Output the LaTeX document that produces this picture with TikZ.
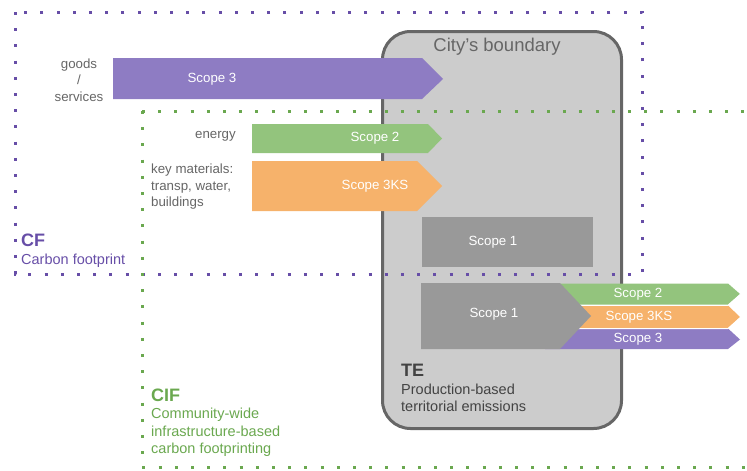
\documentclass[tikz,border=0pt]{standalone}
\usepackage{fontspec}
\setmainfont{Liberation Sans}
\usepackage{tikz}

\definecolor{cfpurple}{HTML}{8E7CC3}
\definecolor{cfdark}{HTML}{674EA7}
\definecolor{cifgreen}{HTML}{93C47D}
\definecolor{cifdark}{HTML}{6AA84F}
\definecolor{ksorange}{HTML}{F6B26B}
\definecolor{tegray}{HTML}{999999}
\definecolor{cityfill}{HTML}{CCCCCC}
\definecolor{cityline}{HTML}{666666}
\definecolor{textgray}{HTML}{666666}
\definecolor{tedark}{HTML}{434343}

\begin{document}
\begin{tikzpicture}[x=1pt, y=-1pt,
		lbl/.style={font=\fontsize{13.3}{16.5}\selectfont, text=textgray, inner sep=0pt},
		scopelbl/.style={font=\fontsize{13.3}{16}\selectfont, text=white, inner sep=0pt},
		captxt/.style={font=\fontsize{14.5}{17.5}\selectfont, inner sep=0pt, anchor=west, align=left},
		head/.style={font=\fontsize{18}{20}\selectfont\bfseries, inner sep=0pt, anchor=west},
		dots/.style={line width=3pt, dash pattern=on 3pt off 13.2pt},
		gapline/.style={white, line width=1.2pt}]

		\useasboundingbox (0,0) rectangle (747,471);
		\clip (0,0) rectangle (747,471);

		% city's boundary
		\draw[cityline, fill=cityfill, line width=3pt, rounded corners=28pt] (382.5,31.5) rectangle (621.5,428.5);
		\node[font=\fontsize{18.5}{20}\selectfont, text=textgray, inner sep=0pt] (city) at (497,47) {City’s boundary};

		% CF and CIF limits
		\draw[dots, cfdark] (15,12) rectangle (642,274);
		\draw[dots, cifdark] (142,111) -- (760,111);
		\draw[dots, cifdark] (142,111) -- (142,467) -- (760,467);

		% inflows
		\fill[cfpurple] (113,58) -- (422,58) -- (443,79) -- (422,99) -- (113,99) -- cycle;
		\fill[cifgreen] (252,124) -- (428,124) -- (442,138.5) -- (428,153) -- (252,153) -- cycle;
		\fill[ksorange] (252,161) -- (417,161) -- (442,186) -- (417,211) -- (252,211) -- cycle;
		\fill[tegray] (422,217) rectangle (593,267);

		% territorial outflows
		\fill[cifgreen] (545,283.5) -- (728,283.5) -- (740,294) -- (728,305) -- (545,305) -- cycle;
		\fill[ksorange] (545,305.5) -- (728,305.5) -- (740,317) -- (728,328.5) -- (545,328.5) -- cycle;
		\fill[cfpurple] (545,328.5) -- (728,328.5) -- (740,339.5) -- (728,349) -- (545,349) -- cycle;
		\draw[gapline] (560,305.3) -- (728,305.3) -- (740,294.8);
		\draw[gapline] (560,328.6) -- (728,328.6) -- (740,318);
		\fill[tegray] (421,283) -- (560,283) -- (591,316) -- (560,349) -- (421,349) -- cycle;

		\node[scopelbl] (scopeA) at (212,79) {Scope 3};
		\node[scopelbl] (scopeB) at (375,138.5) {Scope 2};
		\node[scopelbl] (scopeC) at (375,186) {Scope 3KS};
		\node[scopelbl] (scopeD) at (493,242) {Scope 1};
		\node[scopelbl] (scopeE) at (494,314) {Scope 1};
		\node[scopelbl] (scopeF) at (638,294.5) {Scope 2};
		\node[scopelbl] (scopeG) at (639,317) {Scope 3KS};
		\node[scopelbl] (scopeH) at (638,339.5) {Scope 3};

		% side labels
		\node[lbl, align=center] (goods) at (79,80) {goods\\/\\services};
		\node[lbl, anchor=east] (energy) at (236,136) {energy};
		\node[lbl, align=left, anchor=west] (keymat) at (151,187) {key materials:\\transp, water,\\buildings};

		\node[head, text=cfdark] (cf) at (21,240) {CF};
		\node[captxt, text=cfdark] (cfname) at (21,261) {Carbon footprint};
		\node[head, text=cifdark] (cif) at (151,395) {CIF};
		\node[captxt, text=cifdark] (cifname) at (151,432.5) {Community-wide\\infrastructure-based\\carbon footprinting};
		\node[head, text=tedark] (te) at (401,370) {TE};
		\node[captxt, text=tedark] (tename) at (401,398) {Production-based\\territorial emissions};

	\end{tikzpicture}
\end{document}
